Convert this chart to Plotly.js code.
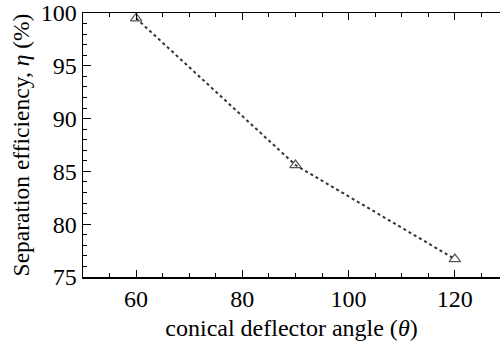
<!DOCTYPE html>
<html>
<head>
<meta charset="utf-8">
<script src="https://cdn.plot.ly/plotly-3.0.1.min.js"></script>
<style>html,body{margin:0;padding:0;background:#fff;}#chart{width:500px;height:346px;}</style>
</head>
<body>
<div id="chart"></div>
<script>
const angles = [60, 90, 120];
const efficiency = [99.5, 85.6, 76.7];
const xTickVals = [60, 80, 100, 120];
const yTickVals = [75, 80, 85, 90, 95, 100];

const trace = {
  x: angles,
  y: efficiency,
  type: 'scatter',
  mode: 'lines+markers',
  line: {color: '#333333', width: 2, dash: 'dot'},
  marker: {symbol: 'triangle-up-open', size: 10, color: '#555555', line: {width: 1.2, color: '#555555'}},
  showlegend: false
};

const fontFam = 'Liberation Serif';
const layout = {
  width: 500, height: 346,
  margin: {l: 83, r: 0, t: 13, b: 69},
  paper_bgcolor: '#fff', plot_bgcolor: '#fff',
  font: {family: fontFam, color: '#000', size: 24},
  xaxis: {
    range: [50, 128.5],
    tickmode: 'array',
    tickvals: xTickVals,
    ticks: 'inside', ticklen: 7, tickwidth: 1, tickcolor: '#000',
    minor: {dtick: 5, tick0: 50, ticks: 'inside', ticklen: 4, tickcolor: '#000', showgrid: false},
    showline: true, linecolor: '#000', linewidth: 1.5, mirror: 'ticks',
    showgrid: false, zeroline: false,
    tickfont: {family: fontFam, size: 24, color: '#000'},
    title: {text: 'conical deflector angle (<i>θ</i>)', font: {family: fontFam, size: 24, color: '#000'}, standoff: 8}
  },
  yaxis: {
    range: [75, 100],
    tickmode: 'array',
    tickvals: yTickVals,
    ticks: 'inside', ticklen: 8, tickwidth: 1, tickcolor: '#000',
    minor: {dtick: 1, tick0: 75, ticks: 'inside', ticklen: 4, tickcolor: '#000', showgrid: false},
    showline: true, linecolor: '#000', linewidth: 1.5, mirror: false,
    showgrid: false, zeroline: false,
    tickfont: {family: fontFam, size: 24, color: '#000'},
    title: {text: 'Separation efficiency, <i>η</i> (%)', font: {family: fontFam, size: 23.5, color: '#000'}, standoff: 4}
  }
};

Plotly.newPlot('chart', [trace], layout, {displayModeBar: false, staticPlot: true});
</script>
</body>
</html>
